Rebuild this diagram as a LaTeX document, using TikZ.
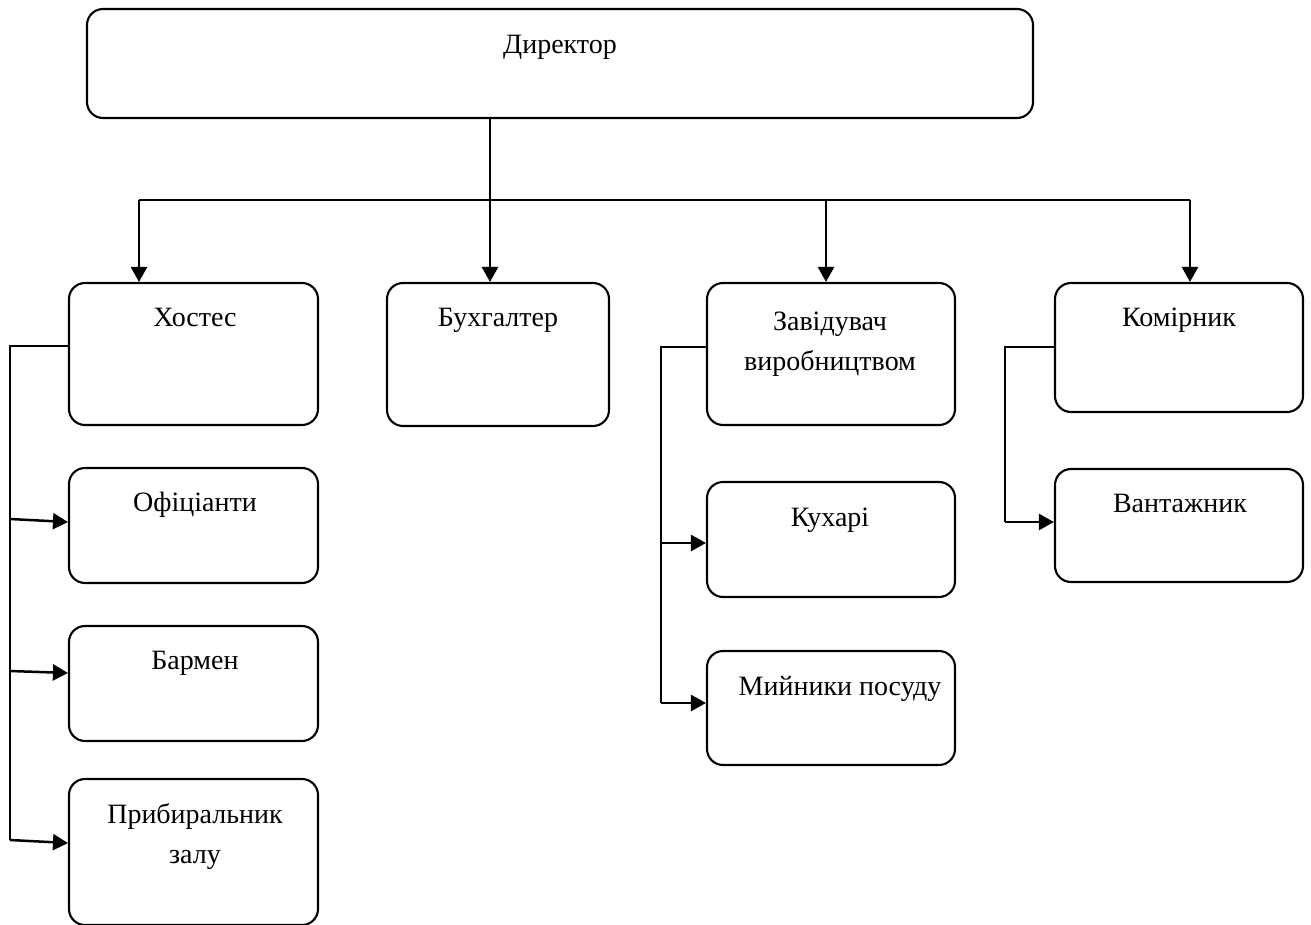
\documentclass[tikz,border=0pt]{standalone}
\usepackage{fontspec}
\setmainfont{Liberation Serif}
\newfontfamily\tnr{Liberation Serif}
\usetikzlibrary{arrows.meta}
\tikzset{
  box/.style={draw, line width=2.1pt, rounded corners=16pt, inner sep=0pt},
  lbl/.style={anchor=base, inner sep=0pt, align=center, font=\tnr\fontsize{28}{40}\selectfont},
  conn/.style={line width=2.5pt},
  thin conn/.style={line width=2pt},
  arr/.style={line width=2.5pt, -{Triangle[length=15pt,width=16pt]}},
}
\newcommand\mybox[8]{%
  \node[box, minimum width=#4pt, minimum height=#5pt] (#1) at (#2,#3) {};
  \node[lbl] (#1t) at ([xshift=#6pt,yshift=#7pt]#1.north) {#8};}
\begin{document}
\begin{tikzpicture}[x=1pt,y=-1pt]
\useasboundingbox (0,0) rectangle (1311,925);
\mybox{dir}{560}{63.5}{946}{109}{0}{-46}{Директор}
\mybox{hos}{193.5}{354}{249}{142}{1.5}{-45}{Хостес}
\mybox{buh}{498}{354.5}{222}{143}{0}{-45}{Бухгалтер}
\mybox{zav}{831}{354}{248}{142}{-1}{-89}{Завідувач\\виробництвом}
\mybox{kom}{1179}{347.5}{248}{129}{0}{-45}{Комірник}
\mybox{ofi}{193.5}{525.5}{249}{115}{1.5}{-45}{Офіціанти}
\mybox{bar}{193.5}{683.5}{249}{115}{1.5}{-45}{Бармен}
\mybox{pry}{193.5}{852}{249}{146}{1.5}{-86}{Прибиральник\\залу}
\mybox{kuh}{831}{539.5}{248}{115}{-1}{-46}{Кухарі}
\mybox{myi}{831}{708}{248}{114}{9}{-46}{Мийники посуду}
\mybox{van}{1179}{525.5}{248}{113}{1}{-45}{Вантажник}
% main bus
\coordinate (b1) at (139,200);
\coordinate (b2) at (490,200);
\coordinate (b3) at (826,200);
\coordinate (b4) at (1190,200);
\draw[conn] (b1) -- (b4);
\draw[arr] (b2 |- dir.south) -- (b2 |- buh.north);
\draw[arr] (b1) -- (b1 |- hos.north);
\draw[arr] (b3) -- (b3 |- zav.north);
\draw[arr] (b4) -- (b4 |- kom.north);
% Hostes branch
\coordinate (h0) at (10,346);
\coordinate (h1) at (10,519);
\coordinate (h2) at (10,671);
\coordinate (h3) at (10,840);
\draw[thin conn] (hos.west |- h0) -- (h0) -- (h3);
\draw[arr] (h1) -- ([yshift=3.5pt]ofi.west);
\draw[arr] (h2) -- ([yshift=10.5pt]bar.west);
\draw[arr] (h3) -- ([yshift=9pt]pry.west);
% Zaviduvach branch
\coordinate (z0) at (661,347);
\coordinate (z1) at (661,543);
\coordinate (z2) at (661,703);
\draw[thin conn] (zav.west |- z0) -- (z0) -- (z2);
\draw[arr] (z1) -- (z1 -| kuh.west);
\draw[arr] (z2) -- (z2 -| myi.west);
% Komirnyk branch
\coordinate (k0) at (1005,347);
\coordinate (k1) at (1005,522);
\draw[thin conn] (kom.west |- k0) -- (k0) -- (k1);
\draw[arr] (k1) -- (k1 -| van.west);
\end{tikzpicture}
\end{document}
